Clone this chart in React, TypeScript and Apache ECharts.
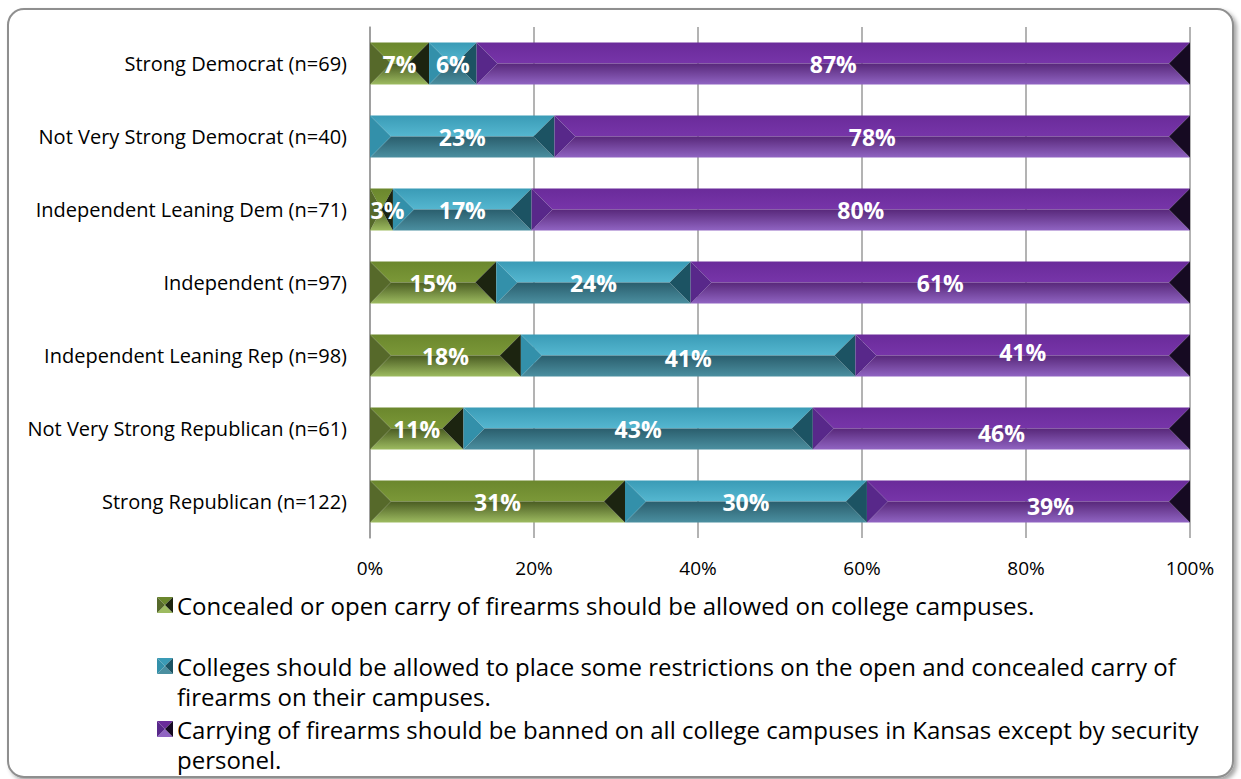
import React, { useEffect, useRef } from "react";
import * as echarts from "echarts";

const categories = [
  "Strong Democrat (n=69)",
  "Not Very Strong Democrat (n=40)",
  "Independent Leaning Dem (n=71)",
  "Independent (n=97)",
  "Independent Leaning Rep (n=98)",
  "Not Very Strong Republican (n=61)",
  "Strong Republican (n=122)",
];
const allowCarry = [7.2, 0, 2.8, 15.4, 18.4, 11.4, 31.1];
const someRestrictions = [5.8, 22.5, 16.9, 23.7, 40.8, 42.6, 29.5];
const bannedExceptSecurity = [87.0, 77.5, 80.3, 60.9, 40.8, 46.0, 39.4];
const seriesNames = [
  "Concealed or open carry of firearms should be allowed on college campuses.",
  "Colleges should be allowed to place some restrictions on the open and concealed carry of\nfirearms on their campuses.",
  "Carrying of firearms should be banned on all college campuses in Kansas except by security\npersonel.",
];
const xTicks = [0, 20, 40, 60, 80, 100];

// manual label nudges seen in the original (series index, row index) -> [dx, dy]
const labelNudges: Record<string, [number, number]> = {
  "0-2": [6, 0],
  "1-4": [0, 2],
  "2-4": [0, -4],
  "2-5": [0, 4],
  "2-6": [22, 4],
};

const palettes = [
  { top: ["#6b872d", "#7b9838"], bot: ["#4a5c22", "#9dbb60"], left: "#56692a", right: "#1c2410" },
  { top: ["#3a9bb6", "#55b7d0"], bot: ["#2a5e6d", "#4b8fa0"], left: "#3390aa", right: "#1c5363" },
  { top: ["#6a2b9a", "#7735a9"], bot: ["#58287a", "#9064c2"], left: "#58288a", right: "#160a22" },
];

const FONT = "'Open Sans', Lato, sans-serif";

function buildData(si: number) {
  const arrs = [allowCarry, someRestrictions, bannedExceptSecurity];
  return categories.map((_, ci) => {
    const total = arrs.reduce((s, a) => s + a[ci], 0);
    let start = 0;
    for (let k = 0; k < si; k++) start += (arrs[k][ci] / total) * 100;
    const v = arrs[si][ci];
    const end = start + (v / total) * 100;
    return [ci, start, end, v];
  });
}

function makeRenderItem(si: number) {
  const pal = palettes[si];
  return (params: any, api: any) => {
    const ci = api.value(0);
    const start = api.value(1);
    const end = api.value(2);
    const v = api.value(3);
    if (!v) return null;
    const p0 = api.coord([start, ci]);
    const p1 = api.coord([end, ci]);
    const band = api.size([0, 1])[1];
    const h = band * 0.575;
    const x0 = p0[0];
    const x1 = p1[0];
    const ym = p0[1];
    const y0 = ym - h / 2;
    const y1 = ym + h / 2;
    const b = Math.min(h / 2, (x1 - x0) / 2);
    const nudge = labelNudges[si + "-" + ci] || [0, 0];
    return {
      type: "group",
      children: [
        {
          type: "polygon",
          shape: { points: [[x0, y0], [x1, y0], [x1 - b, ym], [x0 + b, ym]] },
          style: {
            fill: new echarts.graphic.LinearGradient(0, 0, 0, 1, [
              { offset: 0, color: pal.top[0] },
              { offset: 1, color: pal.top[1] },
            ]),
          },
        },
        {
          type: "polygon",
          shape: { points: [[x0 + b, ym], [x1 - b, ym], [x1, y1], [x0, y1]] },
          style: {
            fill: new echarts.graphic.LinearGradient(0, 0, 0, 1, [
              { offset: 0, color: pal.bot[0] },
              { offset: 1, color: pal.bot[1] },
            ]),
          },
        },
        {
          type: "polygon",
          shape: { points: [[x0, y0], [x0 + b, ym], [x0, y1]] },
          style: { fill: pal.left },
        },
        {
          type: "polygon",
          shape: { points: [[x1, y0], [x1 - b, ym], [x1, y1]] },
          style: { fill: pal.right },
        },
        {
          type: "text",
          z2: 10,
          style: {
            text: Math.round(v) + "%",
            x: (x0 + x1) / 2 + nudge[0],
            y: ym + nudge[1],
            align: "center",
            verticalAlign: "middle",
            fill: "#ffffff",
            font: "bold 23px " + FONT,
          },
        },
      ],
    };
  };
}

function legendGraphics() {
  const firstLineY = [605, 666, 729];
  const els: any[] = [];
  seriesNames.forEach((name, i) => {
    const pal = palettes[i];
    const cx = 165;
    const cy = firstLineY[i];
    const s = 8;
    const l = cx - s, r = cx + s, t = cy - s, bt = cy + s;
    els.push(
      { type: "polygon", shape: { points: [[l, t], [r, t], [cx, cy]] }, style: { fill: pal.top[0] } },
      { type: "polygon", shape: { points: [[l, bt], [r, bt], [cx, cy]] }, style: { fill: pal.bot[1] } },
      { type: "polygon", shape: { points: [[l, t], [cx, cy], [l, bt]] }, style: { fill: pal.left } },
      { type: "polygon", shape: { points: [[r, t], [cx, cy], [r, bt]] }, style: { fill: pal.right } },
      {
        type: "text",
        x: 177,
        y: cy - 15,
        style: {
          text: name,
          fill: "#000",
          font: "24px " + FONT,
          lineHeight: 30,
          verticalAlign: "top",
        },
      }
    );
  });
  return els;
}

export default function App() {
  const ref = useRef<HTMLDivElement>(null);
  useEffect(() => {
    if (!ref.current) return;
    const chart = echarts.init(ref.current, undefined, { renderer: "svg" });
    chart.setOption({
      animation: false,
      backgroundColor: "#ffffff",
      grid: { left: 370, right: 51, top: 27, bottom: 241, containLabel: false },
      xAxis: {
        type: "value",
        min: 0,
        max: 100,
        interval: 20,
        axisLine: { show: false },
        axisTick: { show: false },
        splitLine: { show: true, lineStyle: { color: "#9a9a9a", width: 1.5 } },
        axisLabel: {
          formatter: (v: number) => (xTicks.includes(v) ? v + "%" : ""),
          color: "#000",
          fontSize: 19,
          fontFamily: FONT,
          margin: 20,
        },
      },
      yAxis: {
        type: "category",
        data: categories,
        inverse: true,
        axisLine: { show: true, lineStyle: { color: "#9a9a9a", width: 1.5 } },
        axisTick: { show: false },
        splitLine: { show: false },
        axisLabel: { color: "#000", fontSize: 20, fontFamily: FONT, margin: 23 },
      },
      series: [0, 1, 2].map((si) => ({
        type: "custom",
        name: seriesNames[si],
        renderItem: makeRenderItem(si),
        encode: { x: [1, 2], y: 0 },
        data: buildData(si),
        z: 5,
      })),
      graphic: [
        {
          type: "rect",
          z: -10,
          shape: { x: 8, y: 9, width: 1225, height: 768, r: 16 },
          style: {
            fill: "#ffffff",
            stroke: "#8f8f8f",
            lineWidth: 2,
            shadowBlur: 4,
            shadowOffsetX: 3,
            shadowOffsetY: 3,
            shadowColor: "rgba(0,0,0,0.35)",
          },
        },
        ...legendGraphics(),
      ],
    });
    return () => chart.dispose();
  }, []);
  return (
    <div
      ref={ref}
      style={{ position: "fixed", left: 0, top: 0, width: 1241, height: 779 }}
    />
  );
}
